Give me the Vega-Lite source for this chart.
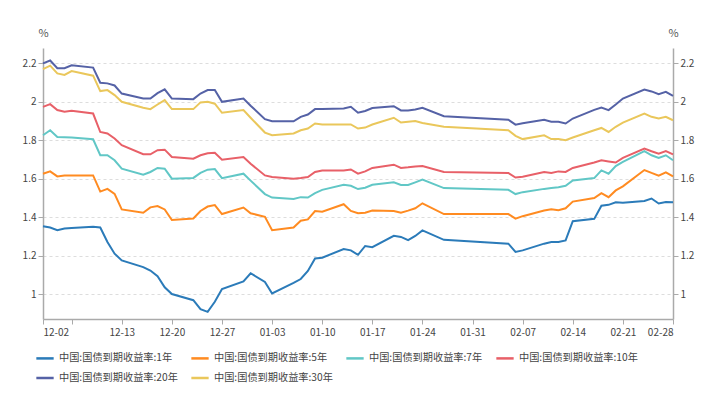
{
  "$schema": "https://vega.github.io/schema/vega-lite/v6.json",
  "width": 630,
  "height": 271,
  "autosize": {"type": "none"},
  "padding": {"left": 43, "top": 48, "right": 30, "bottom": 91},
  "background": "white",
  "config": {"font": "Noto Sans CJK SC", "view": {"stroke": null}},
  "data": {"values": [
    {"d": "2024-12-02", "1年": 1.353, "5年": 1.626, "7年": 1.826, "10年": 1.974, "20年": 2.200, "30年": 2.170},
    {"d": "2024-12-03", "1年": 1.346, "5年": 1.638, "7年": 1.852, "10年": 1.988, "20年": 2.215, "30年": 2.188},
    {"d": "2024-12-04", "1年": 1.332, "5年": 1.612, "7年": 1.817, "10年": 1.957, "20年": 2.175, "30年": 2.148},
    {"d": "2024-12-05", "1年": 1.341, "5年": 1.616, "7年": 1.816, "10年": 1.948, "20年": 2.175, "30年": 2.140},
    {"d": "2024-12-06", "1年": 1.344, "5年": 1.617, "7年": 1.814, "10年": 1.953, "20年": 2.190, "30年": 2.160},
    {"d": "2024-12-09", "1年": 1.350, "5年": 1.617, "7年": 1.805, "10年": 1.939, "20年": 2.178, "30年": 2.136},
    {"d": "2024-12-10", "1年": 1.346, "5年": 1.533, "7年": 1.722, "10年": 1.843, "20年": 2.099, "30年": 2.056},
    {"d": "2024-12-11", "1年": 1.271, "5年": 1.547, "7年": 1.722, "10年": 1.835, "20年": 2.096, "30年": 2.061},
    {"d": "2024-12-12", "1年": 1.210, "5年": 1.521, "7年": 1.696, "10年": 1.809, "20年": 2.085, "30年": 2.035},
    {"d": "2024-12-13", "1年": 1.175, "5年": 1.440, "7年": 1.652, "10年": 1.774, "20年": 2.043, "30年": 2.000},
    {"d": "2024-12-16", "1年": 1.140, "5年": 1.423, "7年": 1.621, "10年": 1.727, "20年": 2.017, "30年": 1.969},
    {"d": "2024-12-17", "1年": 1.122, "5年": 1.451, "7年": 1.635, "10年": 1.727, "20年": 2.017, "30年": 1.962},
    {"d": "2024-12-18", "1年": 1.093, "5年": 1.458, "7年": 1.656, "10年": 1.748, "20年": 2.045, "30年": 1.986},
    {"d": "2024-12-19", "1年": 1.035, "5年": 1.440, "7年": 1.652, "10年": 1.751, "20年": 2.065, "30年": 2.009},
    {"d": "2024-12-20", "1年": 1.000, "5年": 1.385, "7年": 1.600, "10年": 1.713, "20年": 2.017, "30年": 1.962},
    {"d": "2024-12-23", "1年": 0.968, "5年": 1.393, "7年": 1.604, "10年": 1.704, "20年": 2.014, "30年": 1.962},
    {"d": "2024-12-24", "1年": 0.921, "5年": 1.432, "7年": 1.630, "10年": 1.722, "20年": 2.043, "30年": 1.997},
    {"d": "2024-12-25", "1年": 0.907, "5年": 1.455, "7年": 1.647, "10年": 1.732, "20年": 2.061, "30年": 2.000},
    {"d": "2024-12-26", "1年": 0.960, "5年": 1.463, "7年": 1.650, "10年": 1.735, "20年": 2.061, "30年": 1.990},
    {"d": "2024-12-27", "1年": 1.026, "5年": 1.416, "7年": 1.603, "10年": 1.699, "20年": 2.000, "30年": 1.943},
    {"d": "2024-12-30", "1年": 1.066, "5年": 1.450, "7年": 1.626, "10年": 1.713, "20年": 2.017, "30年": 1.957},
    {"d": "2024-12-31", "1年": 1.108, "5年": 1.420, "7年": 1.590, "10年": 1.678, "20年": 1.980, "30年": 1.917},
    {"d": "2025-01-02", "1年": 1.063, "5年": 1.402, "7年": 1.520, "10年": 1.617, "20年": 1.910, "30年": 1.840},
    {"d": "2025-01-03", "1年": 1.003, "5年": 1.332, "7年": 1.502, "10年": 1.609, "20年": 1.899, "30年": 1.826},
    {"d": "2025-01-06", "1年": 1.058, "5年": 1.346, "7年": 1.495, "10年": 1.600, "20年": 1.899, "30年": 1.835},
    {"d": "2025-01-07", "1年": 1.078, "5年": 1.381, "7年": 1.504, "10年": 1.604, "20年": 1.922, "30年": 1.852},
    {"d": "2025-01-08", "1年": 1.120, "5年": 1.388, "7年": 1.502, "10年": 1.609, "20年": 1.934, "30年": 1.861},
    {"d": "2025-01-09", "1年": 1.185, "5年": 1.432, "7年": 1.525, "10年": 1.635, "20年": 1.962, "30年": 1.887},
    {"d": "2025-01-10", "1年": 1.189, "5年": 1.428, "7年": 1.542, "10年": 1.643, "20年": 1.962, "30年": 1.882},
    {"d": "2025-01-13", "1年": 1.234, "5年": 1.467, "7年": 1.568, "10年": 1.643, "20年": 1.965, "30年": 1.882},
    {"d": "2025-01-14", "1年": 1.227, "5年": 1.432, "7年": 1.563, "10年": 1.648, "20年": 1.974, "30年": 1.882},
    {"d": "2025-01-15", "1年": 1.204, "5年": 1.420, "7年": 1.546, "10年": 1.626, "20年": 1.943, "30年": 1.861},
    {"d": "2025-01-16", "1年": 1.250, "5年": 1.423, "7年": 1.553, "10年": 1.638, "20年": 1.952, "30年": 1.866},
    {"d": "2025-01-17", "1年": 1.244, "5年": 1.434, "7年": 1.568, "10年": 1.656, "20年": 1.968, "30年": 1.882},
    {"d": "2025-01-20", "1年": 1.303, "5年": 1.432, "7年": 1.581, "10年": 1.673, "20年": 1.977, "30年": 1.917},
    {"d": "2025-01-21", "1年": 1.297, "5年": 1.423, "7年": 1.567, "10年": 1.656, "20年": 1.955, "30年": 1.892},
    {"d": "2025-01-22", "1年": 1.280, "5年": 1.434, "7年": 1.567, "10年": 1.659, "20年": 1.955, "30年": 1.896},
    {"d": "2025-01-23", "1年": 1.302, "5年": 1.446, "7年": 1.581, "10年": 1.664, "20年": 1.960, "30年": 1.900},
    {"d": "2025-01-24", "1年": 1.331, "5年": 1.472, "7年": 1.595, "10年": 1.666, "20年": 1.969, "30年": 1.890},
    {"d": "2025-01-27", "1年": 1.282, "5年": 1.416, "7年": 1.551, "10年": 1.635, "20年": 1.925, "30年": 1.870},
    {"d": "2025-02-05", "1年": 1.262, "5年": 1.416, "7年": 1.542, "10年": 1.630, "20年": 1.907, "30年": 1.852},
    {"d": "2025-02-06", "1年": 1.219, "5年": 1.392, "7年": 1.520, "10年": 1.606, "20年": 1.881, "30年": 1.823},
    {"d": "2025-02-07", "1年": 1.227, "5年": 1.405, "7年": 1.530, "10年": 1.610, "20年": 1.889, "30年": 1.806},
    {"d": "2025-02-10", "1年": 1.262, "5年": 1.434, "7年": 1.547, "10年": 1.635, "20年": 1.906, "30年": 1.826},
    {"d": "2025-02-11", "1年": 1.271, "5年": 1.441, "7年": 1.551, "10年": 1.630, "20年": 1.896, "30年": 1.806},
    {"d": "2025-02-12", "1年": 1.271, "5年": 1.436, "7年": 1.555, "10年": 1.638, "20年": 1.896, "30年": 1.806},
    {"d": "2025-02-13", "1年": 1.279, "5年": 1.446, "7年": 1.563, "10年": 1.635, "20年": 1.887, "30年": 1.800},
    {"d": "2025-02-14", "1年": 1.379, "5年": 1.481, "7年": 1.591, "10年": 1.656, "20年": 1.913, "30年": 1.814},
    {"d": "2025-02-17", "1年": 1.391, "5年": 1.499, "7年": 1.603, "10年": 1.684, "20年": 1.958, "30年": 1.852},
    {"d": "2025-02-18", "1年": 1.459, "5年": 1.525, "7年": 1.643, "10年": 1.696, "20年": 1.970, "30年": 1.864},
    {"d": "2025-02-19", "1年": 1.464, "5年": 1.504, "7年": 1.626, "10年": 1.690, "20年": 1.957, "30年": 1.843},
    {"d": "2025-02-20", "1年": 1.477, "5年": 1.539, "7年": 1.666, "10年": 1.684, "20年": 1.986, "30年": 1.870},
    {"d": "2025-02-21", "1年": 1.475, "5年": 1.560, "7年": 1.687, "10年": 1.708, "20年": 2.017, "30年": 1.892},
    {"d": "2025-02-24", "1年": 1.484, "5年": 1.645, "7年": 1.743, "10年": 1.757, "20年": 2.064, "30年": 1.939},
    {"d": "2025-02-25", "1年": 1.497, "5年": 1.630, "7年": 1.722, "10年": 1.743, "20年": 2.054, "30年": 1.922},
    {"d": "2025-02-26", "1年": 1.471, "5年": 1.616, "7年": 1.708, "10年": 1.730, "20年": 2.040, "30年": 1.913},
    {"d": "2025-02-27", "1年": 1.479, "5年": 1.633, "7年": 1.722, "10年": 1.744, "20年": 2.052, "30年": 1.922},
    {"d": "2025-02-28", "1年": 1.478, "5年": 1.612, "7年": 1.696, "10年": 1.727, "20年": 2.031, "30年": 1.904}
  ]},
  "transform": [
    {"fold": ["1年", "5年", "7年", "10年", "20年", "30年"], "as": ["series", "value"]}
  ],
  "encoding": {
    "x": {
      "field": "d",
      "type": "temporal",
      "scale": {
        "type": "utc",
        "nice": false,
        "domain": [
          {"year": 2024, "month": 12, "date": 2, "utc": true},
          {"year": 2025, "month": 2, "date": 28, "utc": true}
        ]
      },
      "axis": {
        "title": null,
        "grid": false,
        "values": [
          {"year": 2024, "month": 12, "date": 2, "utc": true},
          {"year": 2024, "month": 12, "date": 6, "utc": true},
          {"year": 2024, "month": 12, "date": 13, "utc": true},
          {"year": 2024, "month": 12, "date": 20, "utc": true},
          {"year": 2024, "month": 12, "date": 27, "utc": true},
          {"year": 2025, "month": 1, "date": 3, "utc": true},
          {"year": 2025, "month": 1, "date": 10, "utc": true},
          {"year": 2025, "month": 1, "date": 17, "utc": true},
          {"year": 2025, "month": 1, "date": 24, "utc": true},
          {"year": 2025, "month": 1, "date": 31, "utc": true},
          {"year": 2025, "month": 2, "date": 7, "utc": true},
          {"year": 2025, "month": 2, "date": 14, "utc": true},
          {"year": 2025, "month": 2, "date": 21, "utc": true},
          {"year": 2025, "month": 2, "date": 28, "utc": true}
        ],
        "labelExpr": "utcFormat(datum.value, '%m-%d') == '12-06' ? '' : utcFormat(datum.value, '%m-%d')",
        "labelOverlap": false,
        "labelFontSize": 10,
        "labelColor": "#444444",
        "labelPadding": 3,
        "domainColor": "#aaaaaa",
        "domainWidth": 1.5,
        "tickColor": "#aaaaaa",
        "tickSize": 5
      }
    }
  },
  "layer": [
    {
      "mark": {"type": "line", "strokeWidth": 2},
      "encoding": {
        "y": {
          "field": "value",
          "type": "quantitative",
          "scale": {"domain": [0.87, 2.28], "nice": false, "zero": false},
          "axis": {
            "orient": "left",
            "values": [1, 1.2, 1.4, 1.6, 1.8, 2, 2.2],
            "format": "~g",
            "grid": true,
            "gridDash": [3, 3],
            "gridColor": "#dddddd",
            "domainColor": "#aaaaaa",
            "domainWidth": 1.5,
            "tickColor": "#aaaaaa",
            "tickSize": 5,
            "labelFontSize": 10,
            "labelColor": "#444444",
            "labelPadding": 2,
            "title": "%",
            "titleAngle": 0,
            "titleX": 0,
            "titleY": -15,
            "titleAlign": "center",
            "titleBaseline": "middle",
            "titleFontWeight": "normal",
            "titleFontSize": 11,
            "titleColor": "#555555"
          }
        },
        "color": {
          "field": "series",
          "type": "nominal",
          "scale": {
            "domain": ["1年", "5年", "7年", "10年", "20年", "30年"],
            "range": ["#2b7bb9", "#ff8b21", "#61c7c6", "#e86068", "#5562a6", "#eac75b"]
          },
          "legend": {
            "title": null,
            "orient": "none",
            "legendX": -8,
            "legendY": 300,
            "direction": "horizontal",
            "columns": 4,
            "symbolType": "stroke",
            "symbolStrokeWidth": 2.5,
            "symbolSize": 300,
            "labelExpr": "'中国:国债到期收益率:' + datum.label",
            "labelFontSize": 10.2,
            "labelColor": "#444444",
            "labelOffset": 4,
            "columnPadding": 8,
            "rowPadding": 4
          }
        }
      }
    },
    {
      "mark": {"type": "line", "opacity": 0},
      "encoding": {
        "detail": {"field": "series", "type": "nominal"},
        "y": {
          "field": "value",
          "type": "quantitative",
          "scale": {"domain": [0.87, 2.28], "nice": false, "zero": false},
          "axis": {
            "orient": "right",
            "values": [1, 1.2, 1.4, 1.6, 1.8, 2, 2.2],
            "format": "~g",
            "grid": false,
            "domainColor": "#aaaaaa",
            "domainWidth": 1.5,
            "tickColor": "#aaaaaa",
            "tickSize": 5,
            "labelFontSize": 10,
            "labelColor": "#444444",
            "labelPadding": 2,
            "title": "%",
            "titleAngle": 0,
            "titleX": 0,
            "titleY": -15,
            "titleAlign": "center",
            "titleBaseline": "middle",
            "titleFontWeight": "normal",
            "titleFontSize": 11,
            "titleColor": "#555555"
          }
        }
      }
    }
  ],
  "resolve": {"scale": {"y": "independent"}}
}
